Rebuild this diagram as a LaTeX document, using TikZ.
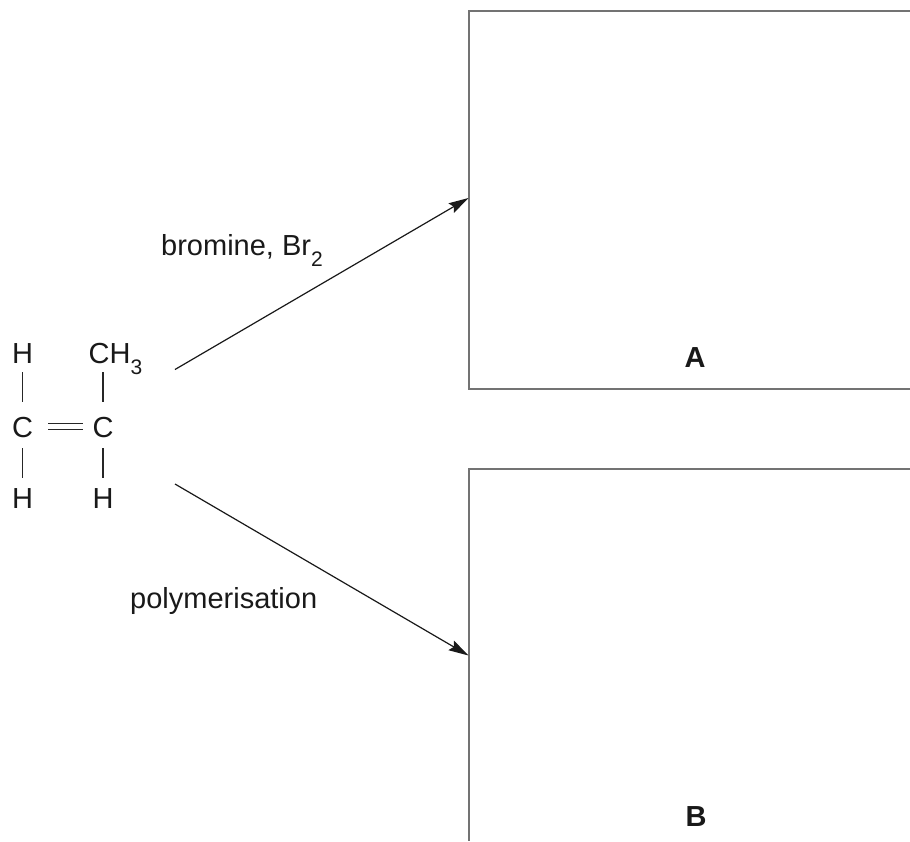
\documentclass[tikz,border=0pt]{standalone}
\usepackage{fontspec}
\setmainfont{Liberation Sans}
\usetikzlibrary{arrows.meta}
\tikzset{
  atom/.style={inner sep=0pt, anchor=base, font=\fontsize{29}{31}\selectfont, text=black!90},
  lbl/.style={inner sep=0pt, anchor=base west, font=\fontsize{29}{31}\selectfont, text=black!90},
  boxlbl/.style={inner sep=0pt, anchor=base, font=\fontsize{29}{31}\selectfont\bfseries, text=black!90},
  bond/.style={line width=1.2pt, black!85},
  react/.style={line width=1.2pt, black!90, -{Stealth[length=20pt,width=11pt,inset=3pt]}},
  answerbox/.style={line width=1.6pt, black!55}
}
\newcommand{\subsc}[1]{\raisebox{-11pt}{\fontsize{21}{21}\selectfont #1}}
\begin{document}
\begin{tikzpicture}[x=1pt,y=-1pt]
\useasboundingbox (0,0) rectangle (910,841);
% molecule
\node[atom] (h1) at (22.5,363) {H};
\node[atom] (c1) at (22.5,437) {C};
\node[atom] (h3) at (22.5,508) {H};
\node[atom, anchor=base west] (ch3) at (88.5,363) {CH\subsc{3}};
\coordinate (ch3b) at (103,363);
\node[atom] (c2) at (103,437) {C};
\node[atom] (h4) at (103,508) {H};
\draw[bond] ([yshift=-9pt]h1.south) -- ([yshift=15pt]c1.north);
\draw[bond] ([yshift=-11pt]c1.south) -- ([yshift=10pt]h3.north);
\draw[bond] ([yshift=-9pt]ch3b) -- ([yshift=15pt]c2.north);
\draw[bond] ([yshift=-11pt]c2.south) -- ([yshift=10pt]h4.north);
\draw[bond, double, double distance=5.5pt, line width=1.1pt] ([xshift=15pt,yshift=0.5pt]c1.east) -- ([xshift=-9pt,yshift=0.5pt]c2.west);
% answer boxes
\coordinate (atr) at (910,11);
\coordinate (atl) at (469,11);
\coordinate (abl) at (469,389);
\coordinate (abr) at (910,389);
\draw[answerbox] (atr) -- (atl) -- (abl) -- (abr);
\coordinate (btr) at (910,469);
\coordinate (btl) at (469,469);
\coordinate (bbl) at (469,841);
\draw[answerbox] (btr) -- (btl) -- (bbl);
\node[boxlbl] (A) at (695,367) {A};
\node[boxlbl] (B) at (696,826) {B};
% reactions
\coordinate (s1) at (175,369.5);
\coordinate (e1) at (468.5,198);
\coordinate (s2) at (175,484);
\coordinate (e2) at (468.5,655.5);
\draw[react] (s1) -- (e1);
\draw[react] (s2) -- (e2);
\node[lbl] (brom) at (161,255) {bromine, Br\subsc{2}};
\node[lbl] (poly) at (130,608) {polymerisation};
\end{tikzpicture}
\end{document}
